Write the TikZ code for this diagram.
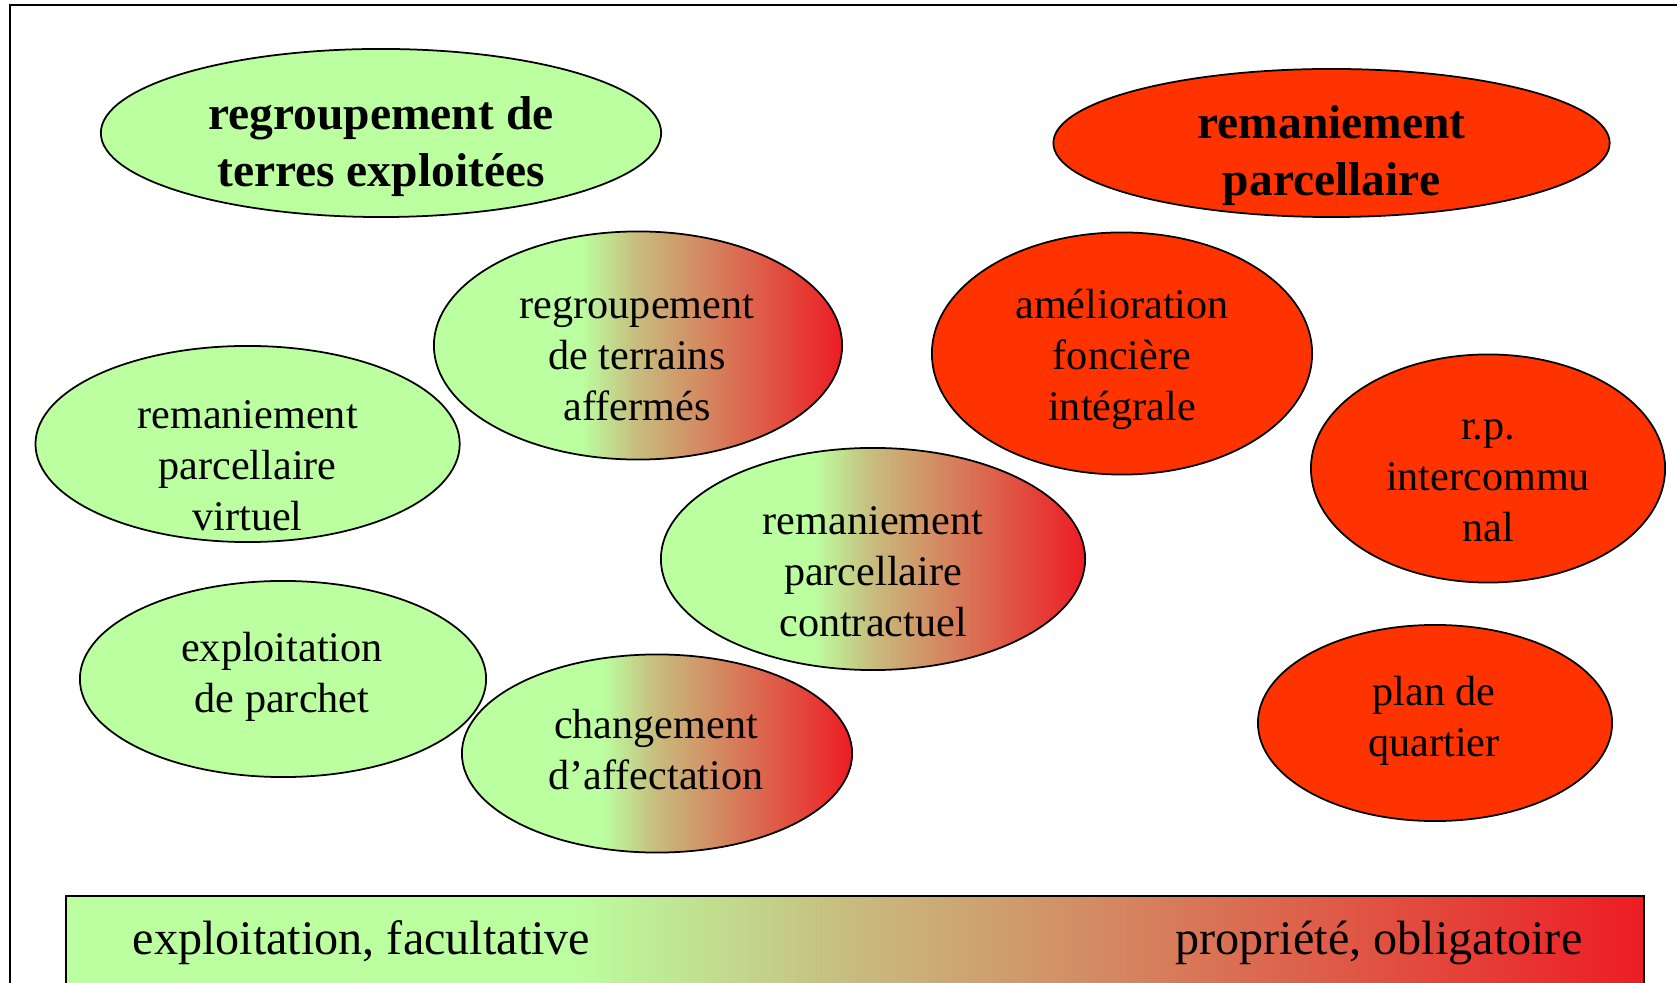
\documentclass[tikz,border=0pt]{standalone}
\usepackage{fontspec}
\setmainfont{Liberation Serif}
\usetikzlibrary{shapes.geometric}

\definecolor{landgreen}{RGB}{187,255,160}
\definecolor{landtan}{RGB}{200,187,125}
\definecolor{landred}{RGB}{237,28,36}
\definecolor{parcred}{RGB}{255,51,0}

% green held on the left third, then tan, then red at the right edge
\pgfdeclarehorizontalshading{landgrad}{100bp}{color(0bp)=(landgreen); color(43bp)=(landgreen);
  color(50bp)=(landtan); color(75bp)=(landred); color(100bp)=(landred)}
\pgfdeclarehorizontalshading{bargrad}{100bp}{color(0bp)=(landgreen); color(41bp)=(landgreen);
  color(50bp)=(landtan); color(75bp)=(landred); color(100bp)=(landred)}

\tikzset{
  blob/.style={ellipse,draw=black,line width=0.5pt,inner sep=0pt},
  green blob/.style={blob,fill=landgreen},
  red blob/.style={blob,fill=parcred},
  mixed blob/.style={blob,shading=landgrad,shading angle=0},
  lbl/.style={align=center,inner sep=0pt,font=\fontsize{12}{14.5}\selectfont},
  title/.style={align=center,inner sep=0pt,font=\fontsize{13.5}{16.2}\selectfont\bfseries},
  bartext/.style={inner sep=0pt,font=\fontsize{13.7}{16.5}\selectfont}
}

\begin{document}
\begin{tikzpicture}[x=0.01cm,y=-0.01cm]
  \useasboundingbox (0,0) rectangle (1677,983);

  % The frame, only its top and left sides show.
  \draw[line width=0.7pt] (1677,5) -| (10,983);

  % The two headings.
  \node[green blob,minimum width=5.6cm,minimum height=1.68cm] (regterres) at (381,133) {};
  \path (regterres.center) +(0,14) node[title] (regterrest) {regroupement de\\terres exploitées};

  \node[red blob,minimum width=5.56cm,minimum height=1.48cm] (remparc) at (1331.5,143) {};
  \path (remparc.center) +(0,13) node[title] (remparct) {remaniement\\parcellaire};

  % The green ones, on the left.
  \node[green blob,minimum width=4.24cm,minimum height=1.96cm] (rpvirt) at (247.6,444) {};
  \path (rpvirt.center) +(0,22) node[lbl] (rpvirtt) {remaniement\\parcellaire\\virtuel};

  \node[green blob,minimum width=4.06cm,minimum height=1.96cm] (parchet) at (283,679) {};
  \path (parchet.center) +(-1,-2) node[lbl] (parchett) {exploitation\\de parchet};

  % The mixed ones, in the middle.
  \node[mixed blob,minimum width=4.08cm,minimum height=2.28cm] (regaff) at (638,345.5) {};
  \path (regaff.center) +(-1,12) node[lbl] (regafft) {regroupement\\de terrains\\affermés};

  \node[mixed blob,minimum width=4.24cm,minimum height=2.22cm] (rpcontr) at (873,559) {};
  \path (rpcontr.center) +(0,13) node[lbl] (rpcontrt) {remaniement\\parcellaire\\contractuel};

  \node[mixed blob,minimum width=3.9cm,minimum height=1.98cm] (chgaff) at (657,753.5) {};
  \path (chgaff.center) +(-1,-4) node[lbl] (chgafft) {changement\\d’affectation};

  % The red ones, on the right.
  \node[red blob,minimum width=3.8cm,minimum height=2.42cm] (amelio) at (1122,353.5) {};
  \path (amelio.center) +(0,6) node[lbl] (ameliot) {amélioration\\foncière\\intégrale};

  \node[red blob,minimum width=3.54cm,minimum height=2.28cm] (rpinter) at (1488,468.5) {};
  \path (rpinter.center) +(0,12) node[lbl] (rpintert) {r.p.\\intercommu\\nal};

  \node[red blob,minimum width=3.54cm,minimum height=1.96cm] (planq) at (1435,723) {};
  \path (planq.center) +(-1,-2) node[lbl] (planqt) {plan de\\quartier};

  % The scale bar at the bottom.
  \draw[line width=0.6pt,shading=bargrad,shading angle=0] (66,896) rectangle (1644,995);
  \node[bartext,anchor=west] (barleft) at (132,943) {exploitation, facultative};
  \node[bartext,anchor=east] (barright) at (1583,943) {propriété, obligatoire};
\end{tikzpicture}
\end{document}
